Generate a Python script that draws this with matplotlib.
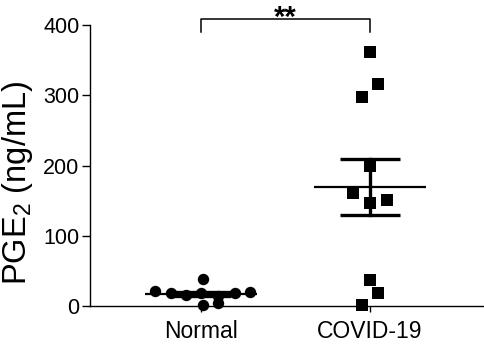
import numpy as np
import matplotlib
matplotlib.use("Agg")
import matplotlib.pyplot as plt

plt.rcParams['font.family'] = ['Liberation Sans', 'DejaVu Sans']
plt.rcParams['mathtext.fontset'] = 'custom'
plt.rcParams['mathtext.rm'] = 'Liberation Sans'
plt.rcParams['mathtext.it'] = 'Liberation Sans'

categories = ["Normal", "COVID-19"]
normal_values = [39, 21, 19, 16, 18, 14, 19, 20, 1, 4]
covid_values = [361, 316, 297, 200, 161, 151, 147, 37, 19, 2]
yticks = [0, 100, 200, 300, 400]
significance = "**"

# horizontal jitter of the scatter points (category units)
normal_jitter = [0.01, -0.27, -0.18, -0.09, 0.0, 0.1, 0.2, 0.29, 0.01, 0.1]
covid_jitter = [0.0, 0.05, -0.05, 0.0, -0.1, 0.1, 0.0, 0.0, 0.05, -0.05]

fig = plt.figure(figsize=(4.84, 3.44), dpi=100)
ax = fig.add_axes([90/484, 38/344, (484-90)/484, (306-25)/344])

groups = [normal_values, covid_values]
jitters = [normal_jitter, covid_jitter]
markers = ['o', 's']
msizes = [8.2, 8.6]
for i, (vals, jit, mk, ms) in enumerate(zip(groups, jitters, markers, msizes)):
    xs = i + np.array(jit)
    ax.plot(xs, vals, linestyle='none', marker=mk, ms=ms, color='black',
            markeredgewidth=0, clip_on=False, zorder=3)
    v = np.array(vals, dtype=float)
    m = v.mean()
    sem = v.std(ddof=1) / np.sqrt(len(v))
    ax.plot([i - 0.33, i + 0.33], [m, m], color='black', lw=1.6, zorder=4,
            solid_capstyle='butt')
    ax.plot([i, i], [m - sem, m + sem], color='black', lw=2.4, zorder=4)
    for y in (m - sem, m + sem):
        ax.plot([i - 0.18, i + 0.18], [y, y], color='black', lw=2.4, zorder=4,
                solid_capstyle='butt')

# significance bracket
ax.plot([0, 0, 1, 1], [390, 408.6, 408.6, 390], color='black', lw=1.1,
        clip_on=False)
ax.text(0.5, 398, significance, ha='center', va='baseline', fontsize=21,
        fontweight='bold', clip_on=False)

ax.set_xlim(-0.657, 1.675)
ax.set_ylim(0, 400)
ax.set_yticks(yticks)
ax.set_xticks(range(len(categories)))
ax.set_xticklabels(categories)
ax.tick_params(axis='y', length=6, width=1, pad=1.5, labelsize=15.5)
ax.tick_params(axis='x', length=4, width=1, pad=6, labelsize=16.5)
for s in ['top', 'right']:
    ax.spines[s].set_visible(False)
for s in ['left', 'bottom']:
    ax.spines[s].set_linewidth(1)

fig.text(18/484, 1 - 183/344, r"PGE$_2$ (ng/mL)", rotation=90, ha='center',
         va='center', fontsize=23.5)

fig.savefig("out.png", dpi=100)
